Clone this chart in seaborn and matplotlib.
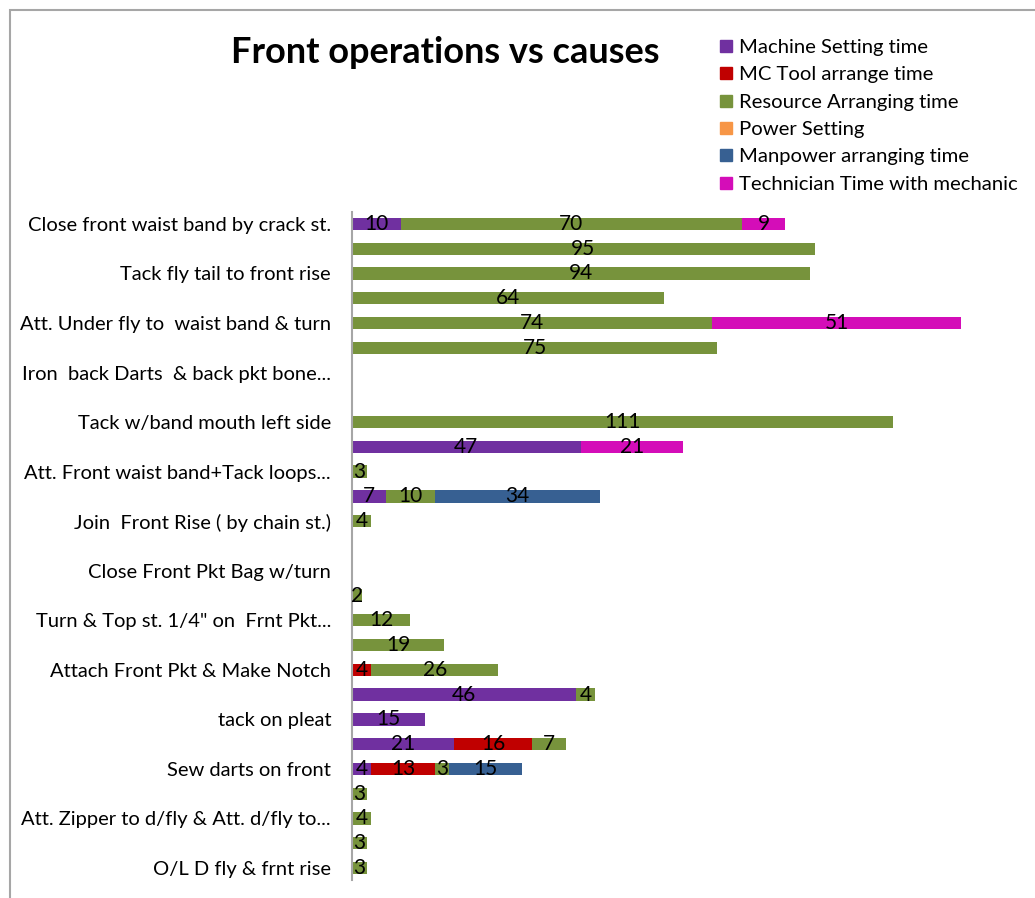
import numpy as np
import pandas as pd
import matplotlib.pyplot as plt
import matplotlib.patches as mpatches
from matplotlib.lines import Line2D
import seaborn as sns

# operations (only every other label is shown on the chart)
labels = ["Close front waist band by crack st.", "", "Tack fly tail to front rise", "",
          "Att. Under fly to  waist band & turn", "", "Iron  back Darts  & back pkt bone...", "",
          "Tack w/band mouth left side", "", "Att. Front waist band+Tack loops...", "",
          "Join  Front Rise ( by chain st.)", "", "Close Front Pkt Bag w/turn", "",
          "Turn & Top st. 1/4\" on  Frnt Pkt...", "", "Attach Front Pkt & Make Notch", "",
          "tack on pleat", "", "Sew darts on front", "",
          "Att. Zipper to d/fly & Att. d/fly to...", "", "O/L D fly & frnt rise"]

machine_setting = [10, 0, 0, 0, 0, 0, 0, 0, 0, 47, 0, 7, 0, 0, 0, 0, 0, 0, 0, 46, 15, 21, 4, 0, 0, 0, 0]
mc_tool = [0, 0, 0, 0, 0, 0, 0, 0, 0, 0, 0, 0, 0, 0, 0, 0, 0, 0, 4, 0, 0, 16, 13, 0, 0, 0, 0]
resource = [70, 95, 94, 64, 74, 75, 0, 0, 111, 0, 3, 10, 4, 0, 0, 2, 12, 19, 26, 4, 0, 7, 3, 3, 4, 3, 3]
power = [0] * 27
manpower = [0, 0, 0, 0, 0, 0, 0, 0, 0, 0, 0, 34, 0, 0, 0, 0, 0, 0, 0, 0, 0, 0, 15, 0, 0, 0, 0]
technician = [9, 0, 0, 0, 51, 0, 0, 0, 0, 21, 0, 0, 0, 0, 0, 0, 0, 0, 0, 0, 0, 0, 0, 0, 0, 0, 0]

series = ["Machine Setting time", "MC Tool arrange time", "Resource Arranging time",
          "Power Setting", "Manpower arranging time", "Technician Time with mechanic"]
colors = ["#7030A0", "#C00000", "#77933C", "#F79646", "#376092", "#D40DB8"]

rows = [f"r{i}" for i in range(len(labels))]
df = pd.DataFrame({"row": rows}, index=rows)
for name, vals in zip(series, [machine_setting, mc_tool, resource, power, manpower, technician]):
    df[name] = vals
cum = df[series].cumsum(axis=1)

sns.set_style("white")
plt.rcParams['font.family'] = ['Lato', 'DejaVu Sans']
plt.rcParams['text.color'] = 'black'
plt.rcParams['ytick.color'] = 'black'

fig = plt.figure(figsize=(10.35, 8.98), dpi=100)
ax = fig.add_axes([0.340, 0.0196, 0.659, 0.7448])

# stacked bars: draw cumulative totals from longest to shortest
for name, col in reversed(list(zip(series, colors))):
    sns.barplot(x=cum[name].values, y=rows, order=rows, orient="h", color=col,
                saturation=1, width=0.5, linewidth=0, ax=ax)

# value labels centred in each segment
for i, r in enumerate(rows):
    start = 0
    for name in series:
        v = df.loc[r, name]
        if v > 0:
            ax.text(start + v / 2, i, str(v), ha="center", va="center", fontsize=15, color="black")
        start += v

ax.set_xlim(0, 140)
ax.set_ylim(len(rows) - 0.5, -0.5)
ax.set_yticks(range(len(rows)))
ax.set_yticklabels(labels, fontsize=14.5, color="black")
ax.tick_params(axis="y", length=0, pad=15)
ax.set_xticks([])
ax.set_xlabel("")
ax.set_ylabel("")
for s in ["top", "right", "bottom"]:
    ax.spines[s].set_visible(False)
ax.spines["left"].set_color("#a6a6a6")
ax.spines["left"].set_linewidth(1.5)

fig.text(0.430, 0.942, "Front operations vs causes", ha="center", va="center",
         fontsize=26, fontweight="bold", color="black")

handles = [Line2D([], [], marker="s", linestyle="", color=c, markersize=9) for c in colors]
fig.legend(handles, series, loc="upper left", bbox_to_anchor=(0.672, 0.977), frameon=False,
           fontsize=14.6, handletextpad=0.05, labelspacing=0.5, handlelength=1.2,
           labelcolor="black")

# chart outline
fig.patches.append(mpatches.Rectangle((10 / 1035, -0.1), 1.2, 1 - 10 / 898 + 0.1,
                                      transform=fig.transFigure, fill=False,
                                      edgecolor="#a6a6a6", linewidth=1.5))

fig.savefig("out.png", dpi=100)
